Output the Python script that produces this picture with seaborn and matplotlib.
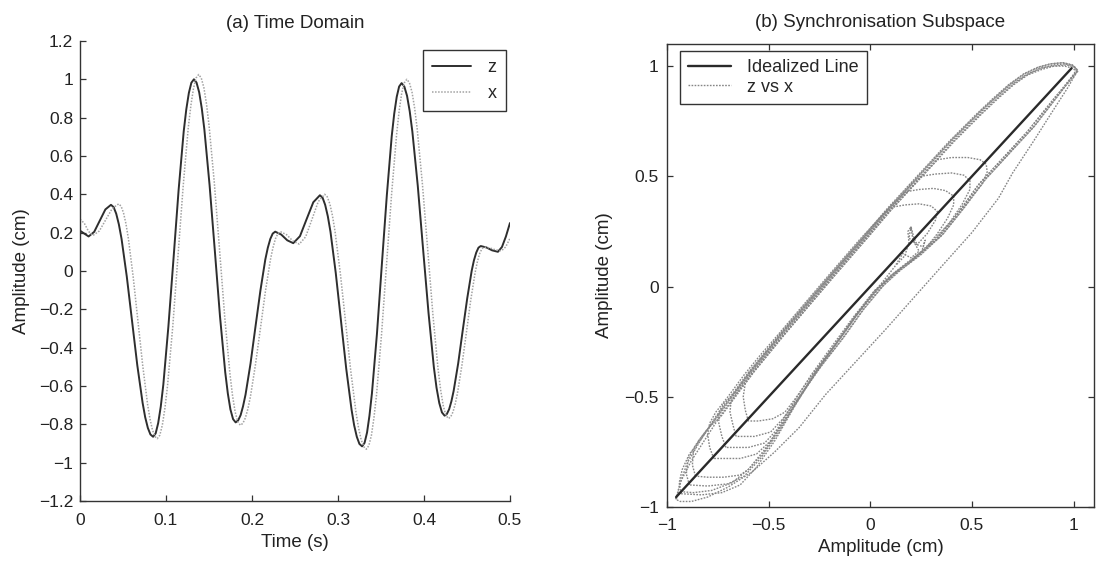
import matplotlib
matplotlib.use("Agg")
import matplotlib.pyplot as plt
import seaborn as sns
import pandas as pd
from matplotlib.ticker import FuncFormatter
from matplotlib.lines import Line2D

# ---------------- data: (a) time domain ----------------
time_z = [0.0, 0.005, 0.010, 0.0165, 0.023, 0.0295, 0.036, 0.0421, 0.0483, 0.0544, 0.0605,
          0.0666, 0.0728, 0.0789, 0.085, 0.0909, 0.0969, 0.1028, 0.1088, 0.1147, 0.1206,
          0.1266, 0.1325, 0.1386, 0.1446, 0.1507, 0.1568, 0.1628, 0.1689, 0.1749, 0.181,
          0.1868, 0.1925, 0.1983, 0.204, 0.2098, 0.2155, 0.2213, 0.227, 0.234, 0.241, 0.248,
          0.2558, 0.2635, 0.2713, 0.279, 0.2851, 0.2913, 0.2974, 0.3035, 0.3096, 0.3158,
          0.3219, 0.328, 0.3338, 0.3395, 0.3453, 0.351, 0.3568, 0.3625, 0.3683, 0.374,
          0.3803, 0.3865, 0.3928, 0.399, 0.4053, 0.4115, 0.4178, 0.424, 0.4293, 0.4345,
          0.4398, 0.445, 0.4503, 0.4555, 0.4608, 0.466, 0.4727, 0.4793, 0.486, 0.4907,
          0.4953, 0.5]
z_vals = [0.21, 0.195, 0.18, 0.204, 0.2625, 0.321, 0.345, 0.299, 0.168, -0.029, -0.26,
          -0.491, -0.688, -0.819, -0.865, -0.794, -0.593, -0.289, 0.0675, 0.424, 0.728,
          0.929, 1.0, 0.932, 0.739, 0.447, 0.105, -0.237, -0.529, -0.722, -0.79,
          -0.752, -0.645, -0.483, -0.2925, -0.102, 0.060, 0.167, 0.205, 0.19, 0.16, 0.145,
          0.1815, 0.27, 0.3585, 0.395, 0.345, 0.204, -0.0098, -0.26, -0.510, -0.724,
          -0.865, -0.915, -0.843, -0.638, -0.329, 0.0325, 0.394, 0.703, 0.908, 0.98,
          0.914, 0.727, 0.444, 0.1125, -0.219, -0.502, -0.689, -0.755, -0.721, -0.626,
          -0.482, -0.3125, -0.143, 0.001, 0.096, 0.13, 0.1225, 0.1075, 0.10, 0.125,
          0.18, 0.25]
# extra readings close to the turning points of z
time_z_near_peaks = [0.0391, 0.0452, 0.0758, 0.0819, 0.0880, 0.0939, 0.1236, 0.1295,
                     0.1355, 0.1416, 0.1719, 0.1780, 0.1839, 0.1896, 0.2184, 0.2241,
                     0.2821, 0.2882, 0.3188, 0.3249, 0.3309, 0.3366, 0.3654, 0.3711,
                     0.3771, 0.3834, 0.4146, 0.4209, 0.4266, 0.4319, 0.4581, 0.4634]
z_near_peaks = [0.333, 0.243, -0.763, -0.853, -0.847, -0.708, 0.843, 0.982,
                0.983, 0.849, -0.639, -0.773, -0.780, -0.706, 0.121, 0.195,
                0.382, 0.285, -0.805, -0.902, -0.897, -0.755, 0.820, 0.962,
                0.963, 0.834, -0.609, -0.738, -0.7465, -0.680, 0.055, 0.1215]

time_x = [0.0, 0.005, 0.010, 0.015, 0.0225, 0.030, 0.0375, 0.045, 0.0506, 0.0562, 0.0618,
          0.0674, 0.073, 0.0786, 0.0842, 0.0898, 0.0958, 0.1018, 0.1079, 0.1139, 0.1199,
          0.1259, 0.1320, 0.138, 0.1441, 0.1501, 0.1562, 0.1623, 0.1683, 0.1744, 0.1804,
          0.1865, 0.1923, 0.1981, 0.2039, 0.2098, 0.2156, 0.2214, 0.2272, 0.233, 0.2403,
          0.2477, 0.255, 0.2624, 0.2698, 0.2771, 0.2845, 0.2906, 0.2966, 0.3027, 0.3088,
          0.3148, 0.3209, 0.3269, 0.333, 0.3389, 0.3448, 0.3506, 0.3565, 0.3624, 0.3683,
          0.3741, 0.380, 0.3861, 0.3921, 0.3982, 0.4043, 0.4103, 0.4164, 0.4224, 0.4285,
          0.4337, 0.4389, 0.4441, 0.4493, 0.4544, 0.4596, 0.4648, 0.470, 0.4767, 0.4833,
          0.490, 0.495, 0.5]
x_vals = [0.27, 0.249, 0.206, 0.185, 0.209, 0.2675, 0.326, 0.35, 0.303, 0.171, -0.029,
          -0.2625, -0.496, -0.696, -0.828, -0.875, -0.803, -0.598, -0.288, 0.075, 0.438,
          0.748, 0.953, 1.025, 0.9555, 0.758, 0.460, 0.11, -0.240, -0.538, -0.735,
          -0.805, -0.767, -0.658, -0.493, -0.30, -0.107, 0.058, 0.167, 0.205, 0.189,
          0.156, 0.14, 0.178, 0.27, 0.362, 0.40, 0.3495, 0.206, -0.011, -0.265,
          -0.519, -0.736, -0.879, -0.93, -0.857, -0.648, -0.334, 0.035, 0.404, 0.718,
          0.927, 1.0, 0.933, 0.742, 0.453, 0.115, -0.223, -0.512, -0.703, -0.77,
          -0.736, -0.639, -0.493, -0.3225, -0.152, -0.006, 0.091, 0.125, 0.12, 0.11,
          0.105, 0.125, 0.17]
# extra readings close to the turning points of x
time_x_near_peaks = [0.0478, 0.0534, 0.0814, 0.0870, 0.0928, 0.0988, 0.1290, 0.1350,
                     0.1410, 0.1471, 0.1774, 0.1835, 0.1894, 0.1952, 0.2243, 0.2301,
                     0.2875, 0.2936, 0.3239, 0.3300, 0.3359, 0.3418, 0.3712, 0.3771,
                     0.3830, 0.3891, 0.4194, 0.4255, 0.4311, 0.4363, 0.4622, 0.4674]
x_near_peaks = [0.338, 0.247, -0.772, -0.863, -0.857, -0.715, 0.865, 1.007,
                1.007, 0.871, -0.651, -0.787, -0.795, -0.720, 0.120, 0.195,
                0.387, 0.288, -0.818, -0.917, -0.911, -0.767, 0.837, 0.981,
                0.983, 0.851, -0.621, -0.753, -0.761, -0.695, 0.050, 0.116]

time_ticks = [0, 0.1, 0.2, 0.3, 0.4, 0.5]
amp_ticks_a = [-1.2, -1.0, -0.8, -0.6, -0.4, -0.2, 0.0, 0.2, 0.4, 0.6, 0.8, 1.0, 1.2]

# ---------------- data: (b) synchronisation subspace (x, z) ----------------
idealized_x = [-0.955, 0.99]
idealized_z = [-0.955, 0.99]

trace_big_1 = [(-0.957, -0.965), (-0.93, -0.88), (-0.88, -0.79), (-0.81, -0.69), (-0.74, -0.59),
               (-0.66, -0.49), (-0.58, -0.39), (-0.50, -0.30), (-0.42, -0.21), (-0.30, -0.08),
               (-0.18, 0.05), (-0.02, 0.22), (0.10, 0.35), (0.22, 0.47), (0.32, 0.57), (0.41, 0.66),
               (0.54, 0.78), (0.62, 0.85), (0.70, 0.915), (0.77, 0.96), (0.84, 0.99), (0.90, 1.005),
               (0.96, 1.01), (1.0, 1.0), (1.02, 0.98), (0.97, 0.90), (0.90, 0.80), (0.80, 0.655),
               (0.70, 0.515), (0.63, 0.40), (0.50, 0.245), (0.34, 0.08), (0.20, -0.065), (0.07, -0.20),
               (-0.10, -0.37), (-0.22, -0.49), (-0.35, -0.64), (-0.47, -0.75), (-0.58, -0.84),
               (-0.70, -0.91), (-0.80, -0.955), (-0.88, -0.975), (-0.935, -0.975), (-0.957, -0.965)]
trace_big_2 = [(-0.93, -0.94), (-0.94, -0.89), (-0.925, -0.83), (-0.89, -0.76), (-0.83, -0.69),
               (-0.755, -0.59), (-0.675, -0.49), (-0.595, -0.39), (-0.515, -0.30), (-0.435, -0.21),
               (-0.315, -0.08), (-0.195, 0.05), (-0.035, 0.22), (0.085, 0.35), (0.205, 0.47),
               (0.305, 0.57), (0.395, 0.66), (0.525, 0.78), (0.605, 0.85), (0.69, 0.92), (0.76, 0.965),
               (0.83, 0.995), (0.89, 1.01), (0.95, 1.015), (0.995, 1.005), (1.02, 0.98), (0.99, 0.95),
               (0.92, 0.87), (0.78, 0.71), (0.65, 0.58), (0.54, 0.47), (0.43, 0.33), (0.33, 0.22),
               (0.22, 0.13), (0.12, 0.06), (0.04, -0.01), (-0.06, -0.12), (-0.16, -0.25),
               (-0.27, -0.38), (-0.37, -0.51), (-0.42, -0.57), (-0.48, -0.60), (-0.55, -0.61),
               (-0.60, -0.61)]
trace_big_3 = [(-0.89, -0.90), (-0.905, -0.85), (-0.895, -0.78), (-0.86, -0.72), (-0.82, -0.67),
               (-0.75, -0.59), (-0.67, -0.49), (-0.59, -0.39), (-0.51, -0.30), (-0.43, -0.21),
               (-0.31, -0.08), (-0.19, 0.05), (-0.03, 0.22), (0.09, 0.35), (0.21, 0.47), (0.31, 0.57),
               (0.40, 0.66), (0.53, 0.78), (0.61, 0.85), (0.69, 0.915), (0.765, 0.96), (0.835, 0.99),
               (0.895, 1.0), (0.955, 1.0), (0.995, 0.99), (1.015, 0.975), (0.985, 0.94), (0.93, 0.875),
               (0.80, 0.72), (0.67, 0.59), (0.56, 0.48), (0.45, 0.345), (0.35, 0.23), (0.24, 0.14),
               (0.14, 0.07), (0.06, 0.0), (-0.04, -0.11), (-0.14, -0.24), (-0.25, -0.37),
               (-0.35, -0.50), (-0.43, -0.60), (-0.49, -0.66), (-0.57, -0.68), (-0.66, -0.68)]
trace_big_4 = [(-0.86, -0.86), (-0.875, -0.81), (-0.87, -0.75), (-0.845, -0.70), (-0.80, -0.645),
               (-0.735, -0.59), (-0.655, -0.49), (-0.575, -0.39), (-0.495, -0.30), (-0.415, -0.21),
               (-0.295, -0.08), (-0.175, 0.05), (-0.015, 0.22), (0.105, 0.35), (0.225, 0.47),
               (0.325, 0.57), (0.415, 0.66), (0.545, 0.78), (0.625, 0.85), (0.705, 0.915),
               (0.775, 0.96), (0.845, 0.985), (0.905, 1.0), (0.965, 1.005), (1.005, 0.995),
               (1.02, 0.975), (0.98, 0.93), (0.91, 0.86), (0.77, 0.70), (0.64, 0.57), (0.53, 0.46),
               (0.42, 0.32), (0.32, 0.21), (0.21, 0.12), (0.11, 0.05), (0.02, -0.02), (-0.08, -0.135),
               (-0.18, -0.26), (-0.29, -0.40), (-0.40, -0.56), (-0.46, -0.65), (-0.52, -0.71),
               (-0.60, -0.73), (-0.71, -0.73)]
trace_big_5 = [(-0.955, -0.965), (-0.935, -0.89), (-0.90, -0.80), (-0.83, -0.69), (-0.76, -0.59),
               (-0.68, -0.49), (-0.60, -0.39), (-0.52, -0.30), (-0.44, -0.21), (-0.32, -0.08),
               (-0.20, 0.05), (-0.04, 0.22), (0.08, 0.35), (0.20, 0.47), (0.30, 0.57), (0.39, 0.66),
               (0.52, 0.78), (0.60, 0.85), (0.68, 0.915), (0.755, 0.965), (0.825, 0.995), (0.885, 1.01),
               (0.945, 1.015), (0.99, 1.005), (1.015, 0.985), (0.995, 0.955), (0.94, 0.885),
               (0.81, 0.73), (0.68, 0.60), (0.57, 0.49), (0.46, 0.355), (0.36, 0.24), (0.25, 0.145),
               (0.15, 0.075), (0.07, 0.01), (-0.03, -0.10), (-0.13, -0.23), (-0.24, -0.36),
               (-0.34, -0.49), (-0.42, -0.60), (-0.49, -0.70), (-0.56, -0.76), (-0.64, -0.78),
               (-0.77, -0.78)]
trace_small_1 = [(-0.60, -0.61), (-0.615, -0.56), (-0.625, -0.50), (-0.615, -0.44), (-0.575, -0.39),
                 (-0.495, -0.30), (-0.415, -0.21), (-0.295, -0.08), (-0.175, 0.05), (-0.015, 0.22),
                 (0.105, 0.35), (0.225, 0.47), (0.33, 0.575), (0.40, 0.585), (0.48, 0.585),
                 (0.54, 0.575), (0.57, 0.555), (0.575, 0.52), (0.55, 0.465), (0.49, 0.40), (0.43, 0.33),
                 (0.33, 0.22), (0.22, 0.13), (0.12, 0.06), (0.04, -0.01), (-0.06, -0.12),
                 (-0.16, -0.25), (-0.27, -0.39), (-0.37, -0.54), (-0.47, -0.70), (-0.56, -0.82),
                 (-0.64, -0.90), (-0.73, -0.935), (-0.83, -0.945), (-0.93, -0.94)]
trace_small_2 = [(-0.66, -0.68), (-0.675, -0.63), (-0.69, -0.57), (-0.685, -0.52), (-0.655, -0.48),
                 (-0.585, -0.39), (-0.505, -0.30), (-0.425, -0.21), (-0.305, -0.08), (-0.185, 0.05),
                 (-0.025, 0.22), (0.095, 0.35), (0.21, 0.47), (0.25, 0.50), (0.32, 0.51), (0.40, 0.515),
                 (0.46, 0.505), (0.49, 0.48), (0.49, 0.44), (0.45, 0.37), (0.39, 0.29), (0.31, 0.21),
                 (0.21, 0.125), (0.11, 0.055), (0.03, -0.015), (-0.07, -0.13), (-0.17, -0.26),
                 (-0.27, -0.39), (-0.36, -0.52), (-0.45, -0.66), (-0.54, -0.78), (-0.62, -0.86),
                 (-0.70, -0.895), (-0.80, -0.905), (-0.89, -0.90)]
trace_small_3 = [(-0.71, -0.73), (-0.73, -0.68), (-0.745, -0.62), (-0.745, -0.57), (-0.72, -0.53),
                 (-0.665, -0.48), (-0.585, -0.38), (-0.505, -0.29), (-0.425, -0.20), (-0.305, -0.07),
                 (-0.185, 0.06), (-0.025, 0.23), (0.095, 0.36), (0.175, 0.43), (0.24, 0.44),
                 (0.31, 0.445), (0.37, 0.435), (0.41, 0.41), (0.41, 0.37), (0.38, 0.31), (0.33, 0.24),
                 (0.27, 0.17), (0.19, 0.115), (0.10, 0.05), (0.02, -0.02), (-0.08, -0.14),
                 (-0.18, -0.27), (-0.28, -0.40), (-0.36, -0.52), (-0.45, -0.65), (-0.53, -0.76),
                 (-0.60, -0.83), (-0.64, -0.855), (-0.72, -0.865), (-0.80, -0.865), (-0.86, -0.86)]
trace_small_4 = [(-0.77, -0.78), (-0.79, -0.73), (-0.80, -0.67), (-0.79, -0.62), (-0.76, -0.57),
                 (-0.70, -0.50), (-0.62, -0.40), (-0.54, -0.31), (-0.455, -0.22), (-0.335, -0.09),
                 (-0.215, 0.04), (-0.055, 0.21), (0.065, 0.33), (0.11, 0.36), (0.17, 0.37),
                 (0.24, 0.375), (0.30, 0.365), (0.33, 0.34), (0.32, 0.30), (0.28, 0.24), (0.23, 0.19),
                 (0.19, 0.22), (0.20, 0.27), (0.21, 0.21), (0.24, 0.16), (0.20, 0.13), (0.16, 0.15),
                 (0.12, 0.09), (0.06, 0.02), (-0.02, -0.07), (-0.12, -0.20), (-0.23, -0.34),
                 (-0.33, -0.48), (-0.43, -0.62), (-0.52, -0.74), (-0.60, -0.83), (-0.68, -0.89),
                 (-0.78, -0.925), (-0.87, -0.935), (-0.94, -0.93), (-0.955, -0.965)]
trace_squiggle = [(0.13, 0.10), (0.17, 0.14), (0.19, 0.20), (0.185, 0.25), (0.20, 0.27),
                  (0.215, 0.22), (0.23, 0.19), (0.26, 0.18), (0.27, 0.21), (0.25, 0.15), (0.21, 0.13)]

amp_ticks_b = [-1.0, -0.5, 0.0, 0.5, 1.0]

# ---------------- styling ----------------
sns.set_theme(style="white")
plt.rcParams["font.family"] = ["Liberation Sans", "DejaVu Sans"]
plt.rcParams["axes.unicode_minus"] = True

DARK = "#2e2e2e"
SPINE = "#333333"
GREY_X = "#a2a2a2"
GREY_LOOP = "#858585"
TXT = "#222222"

TICK_FS = 12.5
LABEL_FS = 13.5
TITLE_FS = 13.5
LEG_FS = 13

fig = plt.figure(figsize=(11.05, 5.61), dpi=100)
fig.patch.set_facecolor("white")
ax1 = fig.add_axes([0.0724, 0.107, 0.3891, 0.820])
ax2 = fig.add_axes([0.6036, 0.0963, 0.3864, 0.8253])


def matlab_fmt(v, pos):
    s = "%g" % round(v, 6)
    if s == "-0":
        s = "0"
    return s.replace("-", "\u2212")


# ---- (a) Time domain ----
df_z = pd.DataFrame({"t": time_z + time_z_near_peaks,
                     "v": z_vals + z_near_peaks}).sort_values("t")
df_x = pd.DataFrame({"t": time_x + time_x_near_peaks,
                     "v": x_vals + x_near_peaks}).sort_values("t")
sns.lineplot(data=df_z, x="t", y="v", ax=ax1, color=DARK, linewidth=1.4,
             sort=False, estimator=None)
sns.lineplot(data=df_x, x="t", y="v", ax=ax1, color=GREY_X, linewidth=1.1,
             linestyle=(0, (1, 1)), sort=False, estimator=None)
ax1.set_xlim(0, 0.5)
ax1.set_ylim(-1.2, 1.2)
ax1.set_xticks(time_ticks)
ax1.set_yticks(amp_ticks_a)
ax1.xaxis.set_major_formatter(FuncFormatter(matlab_fmt))
ax1.yaxis.set_major_formatter(FuncFormatter(matlab_fmt))
for side in ["top", "right"]:
    ax1.spines[side].set_visible(False)
for side in ["left", "bottom"]:
    ax1.spines[side].set_color(SPINE)
    ax1.spines[side].set_linewidth(1.0)
ax1.tick_params(axis="x", direction="in", length=4, width=0.9, color=SPINE,
                labelsize=TICK_FS, pad=9, bottom=True, top=False, labelcolor=TXT)
ax1.tick_params(axis="y", direction="in", length=4, width=0.9, color=SPINE,
                labelsize=TICK_FS, pad=5, left=True, right=False, labelcolor=TXT)
ax1.set_xlabel("Time (s)", fontsize=LABEL_FS, color=TXT, labelpad=4)
ax1.set_ylabel("Amplitude (cm)", fontsize=LABEL_FS, color=TXT, labelpad=6)
ax1.set_title("(a) Time Domain", fontsize=TITLE_FS, color=TXT, pad=9)

h_z = Line2D([], [], color=DARK, linewidth=1.4)
h_x = Line2D([], [], color=GREY_X, linewidth=1.1, linestyle=(0, (1, 1)))
leg1 = ax1.legend([h_z, h_x], ["z", "x"], loc="upper right", bbox_to_anchor=(0.99, 0.98),
                  borderaxespad=0, fontsize=LEG_FS, frameon=True, fancybox=False,
                  edgecolor=SPINE, framealpha=1, handlelength=2.2, handletextpad=0.9,
                  labelspacing=0.5, borderpad=0.5)
leg1.get_frame().set_linewidth(1.0)

# ---- (b) Synchronisation subspace ----
loop_traces = [trace_big_1, trace_big_2, trace_big_3, trace_big_4, trace_big_5,
               trace_small_1, trace_small_2, trace_small_3, trace_small_4, trace_squiggle]
for tr in loop_traces:
    df = pd.DataFrame(tr, columns=["x", "z"])
    sns.lineplot(data=df, x="x", y="z", ax=ax2, color=GREY_LOOP, linewidth=1.0,
                 linestyle=(0, (1.2, 1.0)), sort=False, estimator=None, zorder=2)
sns.lineplot(x=idealized_x, y=idealized_z, ax=ax2, color="#2a2a2a", linewidth=1.7,
             sort=False, estimator=None, zorder=3)

ax2.set_xlim(-1, 1.1)
ax2.set_ylim(-1, 1.1)
ax2.set_xticks(amp_ticks_b)
ax2.set_yticks(amp_ticks_b)
ax2.xaxis.set_major_formatter(FuncFormatter(matlab_fmt))
ax2.yaxis.set_major_formatter(FuncFormatter(matlab_fmt))
for side in ["top", "right", "left", "bottom"]:
    ax2.spines[side].set_visible(True)
    ax2.spines[side].set_color(SPINE)
    ax2.spines[side].set_linewidth(1.0)
ax2.tick_params(axis="x", direction="in", length=4, width=0.9, color=SPINE,
                labelsize=TICK_FS, pad=8, bottom=True, top=True, labelcolor=TXT)
ax2.tick_params(axis="y", direction="in", length=4, width=0.9, color=SPINE,
                labelsize=TICK_FS, pad=6, left=True, right=True, labelcolor=TXT)
ax2.set_xlabel("Amplitude (cm)", fontsize=LABEL_FS, color=TXT, labelpad=4)
ax2.set_ylabel("Amplitude (cm)", fontsize=LABEL_FS, color=TXT, labelpad=8)
ax2.set_title("(b) Synchronisation Subspace", fontsize=TITLE_FS, color=TXT, pad=12)

h_id = Line2D([], [], color="#2a2a2a", linewidth=1.7)
h_zx = Line2D([], [], color=GREY_LOOP, linewidth=1.0, linestyle=(0, (1.2, 1.0)))
leg2 = ax2.legend([h_id, h_zx], ["Idealized Line", "z vs x"], loc="upper left",
                  bbox_to_anchor=(0.03, 0.985), borderaxespad=0, fontsize=LEG_FS,
                  frameon=True, fancybox=False, edgecolor=SPINE, framealpha=1,
                  handlelength=2.4, handletextpad=0.9, labelspacing=0.15, borderpad=0.45)
leg2.get_frame().set_linewidth(1.0)

fig.savefig("out.png", dpi=100, facecolor="white")
